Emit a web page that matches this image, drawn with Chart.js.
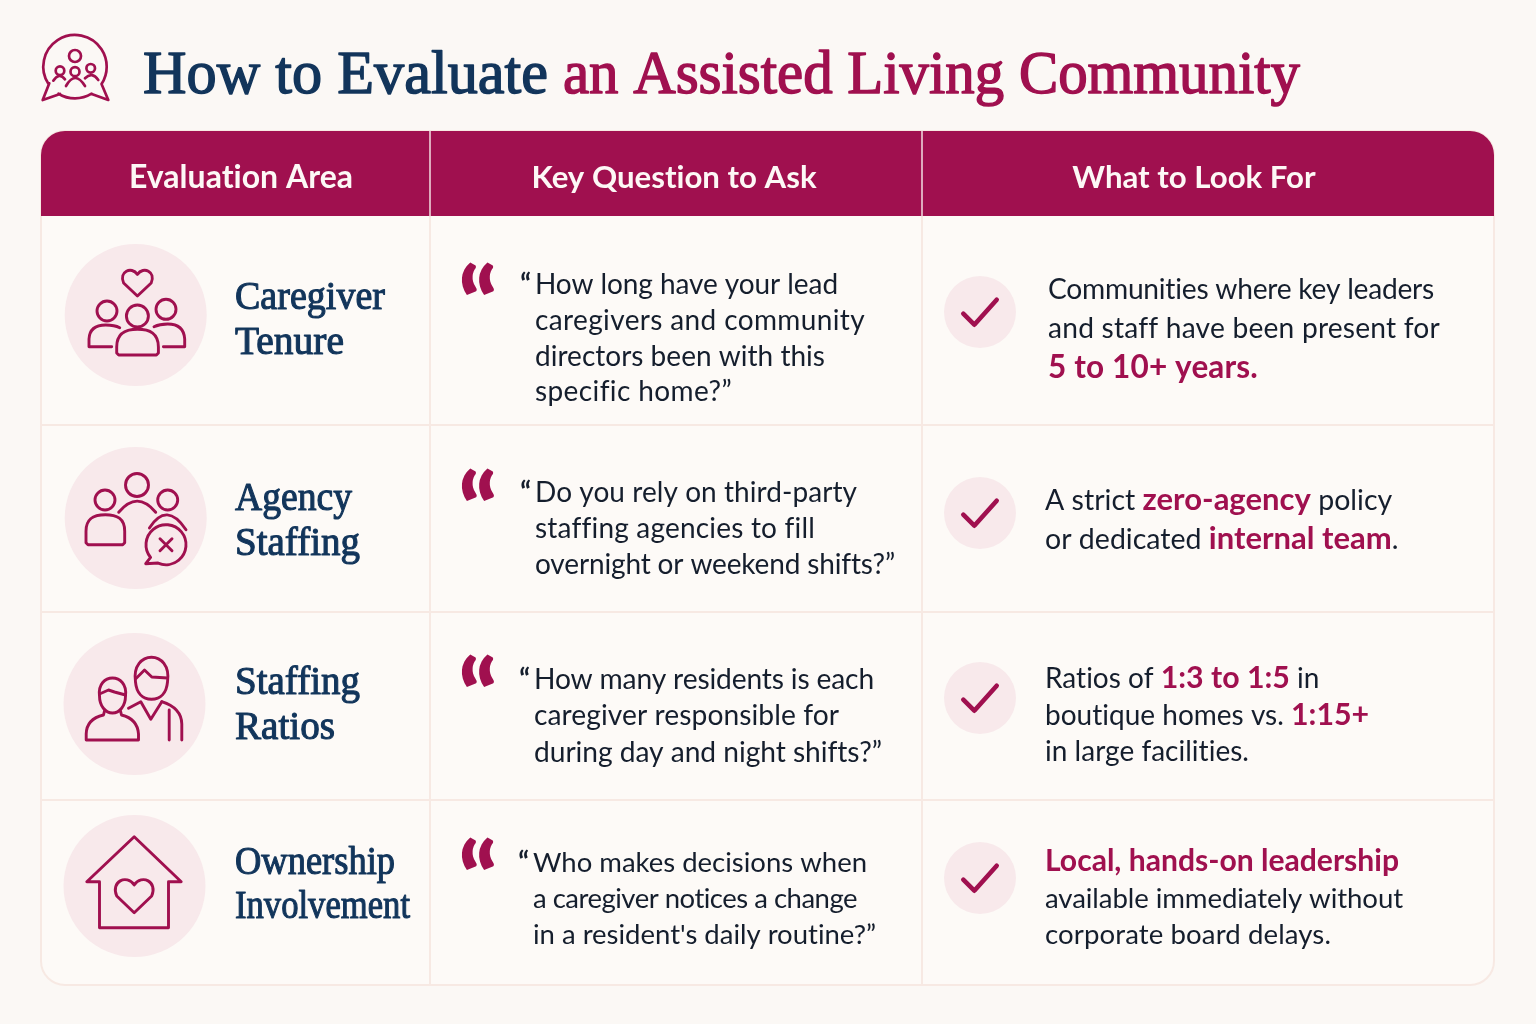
<!DOCTYPE html>
<html>
<head>
<meta charset="utf-8">
<title>How to Evaluate an Assisted Living Community</title>
<script src="https://cdn.jsdelivr.net/npm/chart.js@4"></script>
<style>
  html, body { margin: 0; padding: 0; background: #fbf8f5; }
  canvas { display: block; }
</style>
</head>
<body>
<canvas id="myChart" width="1536" height="1024"></canvas>
<script>
// content
const titleParts = ['How to Evaluate', 'an Assisted Living Community'];
const columns = ['Evaluation Area', 'Key Question to Ask', 'What to Look For'];
const areas = [
  ['Caregiver', 'Tenure'],
  ['Agency', 'Staffing'],
  ['Staffing', 'Ratios'],
  ['Ownership', 'Involvement']
];
const questions = [
  ['How long have your lead', 'caregivers and community', 'directors been with this', 'specific home?\u201D'],
  ['Do you rely on third-party', 'staffing agencies to fill', 'overnight or weekend shifts?\u201D'],
  ['How many residents is each', 'caregiver responsible for', 'during day and night shifts?\u201D'],
  ['Who makes decisions when', 'a caregiver notices a change', "in a resident's daily routine?\u201D"]
];
// each line is a list of [text, highlighted]
const answers = [
  [[['Communities where key leaders', 0]], [['and staff have been present for', 0]], [['5 to 10+ years.', 1]]],
  [[['A strict ', 0], ['zero-agency', 1], [' policy', 0]], [['or dedicated ', 0], ['internal team', 1], ['.', 0]]],
  [[['Ratios of ', 0], ['1:3 to 1:5', 1], [' in', 0]], [['boutique homes vs. ', 0], ['1:15+', 1]], [['in large facilities.', 0]]],
  [[['Local, hands-on leadership', 1]], [['available immediately without', 0]], [['corporate board delays.', 0]]]
];

// layout, in page pixels
const tableBox = { left: 41, right: 1494, top: 131, bottom: 985, headBottom: 216, radius: 24 };
const colLines = [430, 922];
const colCentres = [241, 674, 1194];
const colSizes = [32, 31.2, 31.2];
const rowLines = [425, 612, 800];
const titleX = [143, 563];
const titleWidths = [405, 737];
const iconCentres = [[135.7, 315], [135.7, 518], [134.5, 704], [134.5, 886]];
const areaBaselines = [[309, 354], [510, 555], [694, 739], [874, 918]];
const areaWidths = [[150, 109], [117, 125], [125, 100], [160, 175]];
const quoteBaselines = [341, 547, 733, 916];
const questionX = [535, 535, 534, 533];
const questionBaselines = [[294, 330, 366, 401], [502, 538, 574], [689, 725, 762], [872, 908, 944]];
const questionEnds = [[838, 865, 825, 732], [857, 815, 895], [874, 839, 882], [867, 857, 876]];
const questionSizes = [28, 28, 28.2, 27.5];
const checkCentres = [[980, 312], [980, 513], [980, 698], [980, 878]];
const answerX = [1048, 1045, 1045, 1045];
const answerBaselines = [[299, 338, 378], [510, 549], [688, 725, 761], [871, 908, 944]];
const answerEnds = [[1434, 1440, 1258], [0, 0], [0, 0, 1249], [1399, 1403, 1331]];
const answerSizes = [28.2, 28.5, 28, 27.6];
const strongSizes = [31.5, 31, 30.3, 30.1];

const NAVY = '#12355b';
const CRIMSON = '#a0104f';
const INK = '#151e2d';
const PINK = '#f8e9eb';
const RULE = '#f7e9e3';
const SERIF = '"Liberation Serif", serif';
const SANS = 'Lato, sans-serif';

const line = (ctx, pts, close) => {
  ctx.beginPath();
  pts.forEach((p, i) => (i ? ctx.lineTo(p[0], p[1]) : ctx.moveTo(p[0], p[1])));
  if (close) ctx.closePath();
  ctx.stroke();
};
const ring = (ctx, x, y, r) => {
  ctx.beginPath();
  ctx.arc(x, y, r, 0, Math.PI * 2);
  ctx.stroke();
};
const curve = (ctx, x0, y0, cx, cy, x1, y1) => {
  ctx.beginPath();
  ctx.moveTo(x0, y0);
  ctx.quadraticCurveTo(cx, cy, x1, y1);
  ctx.stroke();
};
const heart = (ctx, x, top, halfW, bottom) => {
  const h = bottom - top;
  ctx.beginPath();
  ctx.moveTo(x, bottom);
  ctx.lineTo(x - halfW * 0.92, top + h * 0.52);
  ctx.bezierCurveTo(x - halfW * 1.25, top + h * 0.1, x - halfW * 0.4, top - h * 0.12, x, top + h * 0.2);
  ctx.bezierCurveTo(x + halfW * 0.4, top - h * 0.12, x + halfW * 1.25, top + h * 0.1, x + halfW * 0.92, top + h * 0.52);
  ctx.closePath();
  ctx.stroke();
};
const dome = (ctx, left, right, top, bottom) => {
  const r = (right - left) / 2;
  ctx.beginPath();
  ctx.moveTo(left + 2, bottom);
  ctx.lineTo(left, bottom - 2);
  ctx.lineTo(left, top + r * 0.85);
  ctx.bezierCurveTo(left, top + r * 0.2, left + r * 0.4, top, left + r, top);
  ctx.bezierCurveTo(right - r * 0.4, top, right, top + r * 0.2, right, top + r * 0.85);
  ctx.lineTo(right, bottom - 2);
  ctx.lineTo(right - 2, bottom);
  ctx.closePath();
  ctx.stroke();
};
// regular serif thickened with a thin outline, the picture's weight sits between regular and bold
const mediumText = (ctx, text, x, y, width, outline) => {
  ctx.strokeStyle = ctx.fillStyle;
  ctx.lineWidth = outline;
  ctx.fillText(text, x, y, width);
  ctx.strokeText(text, x, y, width);
};
// a tiny letter spacing switches off Lato's ti and fi ligatures
const BASE_SPACING = 0.01;
// spreads or tightens one line so that it ends at the given x
const fitLine = (ctx, text, x, y, end) => {
  ctx.letterSpacing = BASE_SPACING + 'px';
  const extra = (end - x - ctx.measureText(text).width) / text.length;
  ctx.letterSpacing = (BASE_SPACING + extra) + 'px';
  ctx.fillText(text, x, y);
  ctx.letterSpacing = BASE_SPACING + 'px';
};

const icons = [
  ctx => {
    heart(ctx, 1.7, -46, 15, -19);
    ring(ctx, -28.7, -4, 10);
    ring(ctx, 1.7, 1, 11);
    ring(ctx, 30.3, -5.7, 10);
    dome(ctx, -19, 22.7, 14.3, 40);
    ctx.beginPath();
    ctx.moveTo(-24, 31.7);
    ctx.lineTo(-46.7, 31.7);
    ctx.lineTo(-46.7, 24);
    ctx.quadraticCurveTo(-46, 10, -30, 10);
    ctx.quadraticCurveTo(-21, 10, -16, 12.7);
    ctx.stroke();
    ctx.beginPath();
    ctx.moveTo(27.7, 31.7);
    ctx.lineTo(49, 31.7);
    ctx.lineTo(49, 24);
    ctx.quadraticCurveTo(48, 9, 32, 9);
    ctx.quadraticCurveTo(24, 9, 18.3, 11.7);
    ctx.stroke();
  },
  ctx => {
    ring(ctx, 1.3, -33, 11.5);
    ring(ctx, -30.7, -18, 10);
    ring(ctx, 32, -18, 10);
    curve(ctx, -17, -5.7, 1.5, -28, 20, -5.7);
    dome(ctx, -49.7, -11, -3.3, 26.7);
    curve(ctx, 13.7, 10, 31, -17, 50.3, 11.7);
    // speech bubble with the cross
    ctx.beginPath();
    ctx.arc(30.3, 26.7, 20, 2.45, 2.45 + Math.PI * 1.85);
    ctx.lineTo(10, 45.7);
    ctx.closePath();
    ctx.save();
    ctx.fillStyle = PINK;
    ctx.fill();
    ctx.restore();
    ctx.stroke();
    line(ctx, [[24.3, 20.7], [36.3, 32.7]]);
    line(ctx, [[36.3, 20.7], [24.3, 32.7]]);
  },
  ctx => {
    // resident
    ctx.beginPath();
    ctx.moveTo(-35, -8);
    ctx.bezierCurveTo(-38, -32, -6, -32, -9, -8);
    ctx.bezierCurveTo(-9, 2, -15, 9, -22, 9);
    ctx.bezierCurveTo(-29, 9, -35, 2, -35, -8);
    ctx.stroke();
    line(ctx, [[-35, -10], [-26, -14], [-20, -12], [-9, -9]]);
    ctx.beginPath();
    ctx.moveTo(-30, 7);
    ctx.lineTo(-31, 11);
    ctx.quadraticCurveTo(-48, 15, -48.3, 30);
    ctx.lineTo(-48.3, 36);
    ctx.lineTo(4, 36);
    ctx.lineTo(4, 30);
    ctx.quadraticCurveTo(3, 15, -13, 11);
    ctx.lineTo(-14, 7);
    ctx.stroke();
    // caregiver
    ctx.beginPath();
    ctx.moveTo(1, -22);
    ctx.bezierCurveTo(-4, -55, 38, -55, 33, -22);
    ctx.bezierCurveTo(32, -11, 26, -4.7, 17, -4.7);
    ctx.bezierCurveTo(8, -4.7, 2, -11, 1, -22);
    ctx.stroke();
    line(ctx, [[1, -25], [10, -34], [17.3, -27], [33, -26]]);
    line(ctx, [[-6, 4.3], [6.3, -2.3], [16.3, 15.3], [27.3, -2.3]]);
    ctx.beginPath();
    ctx.moveTo(27.3, -2.3);
    ctx.quadraticCurveTo(47, 4, 47.3, 20);
    ctx.lineTo(47.3, 36);
    ctx.stroke();
    line(ctx, [[34.7, 6], [34.7, 36]]);
  },
  ctx => {
    line(ctx, [[-0.3, -49.3], [-47.7, -4.3], [-35, -4.3], [-35, 41.7], [34, 41.7], [34, -4.3], [46.7, -4.3]], true);
    heart(ctx, -0.3, -8, 19, 26.7);
  }
];

const headerIcon = ctx => {
  ctx.beginPath();
  ctx.moveTo(60, 94);
  ctx.lineTo(42.7, 100);
  ctx.lineTo(49.3, 83.3);
  ctx.arc(75, 66.7, 31.7, 2.56, 0.58);
  ctx.lineTo(108.3, 100);
  ctx.lineTo(91.7, 94);
  ctx.arc(75, 66.7, 31.7, 1.02, 2.12);
  ctx.stroke();
  ring(ctx, 75, 56, 6);
  ring(ctx, 60, 70.7, 4.3);
  ring(ctx, 90.7, 68.3, 4.3);
  ring(ctx, 75, 71.7, 4.5);
  curve(ctx, 66, 86, 75, 70, 85, 86);
  curve(ctx, 53.3, 80.7, 59, 72, 65, 79.3);
  curve(ctx, 85, 78.3, 92, 71, 98.3, 80);
};

const tablePlugin = {
  id: 'evaluationTable',
  beforeDraw(chart) {
    const { ctx, scales: { x, y } } = chart;
    const px = v => x.getPixelForValue(v);
    const py = v => y.getPixelForValue(v);
    const t = tableBox;

    ctx.save();
    ctx.fillStyle = '#fbf8f5';
    ctx.fillRect(px(0), py(0), px(1536), py(1024));

    ctx.lineCap = 'round';
    ctx.lineJoin = 'round';

    // title
    ctx.textBaseline = 'alphabetic';
    ctx.textAlign = 'left';
    ctx.font = '62px ' + SERIF;
    ctx.fillStyle = NAVY;
    mediumText(ctx, titleParts[0], px(titleX[0]), py(93), titleWidths[0], 1.5);
    ctx.fillStyle = CRIMSON;
    mediumText(ctx, titleParts[1], px(titleX[1]), py(93), titleWidths[1], 1.5);

    ctx.strokeStyle = CRIMSON;
    ctx.lineWidth = 2.7;
    headerIcon(ctx);

    // table body
    ctx.beginPath();
    ctx.roundRect(px(t.left), py(t.top), px(t.right) - px(t.left), py(t.bottom) - py(t.top), t.radius);
    ctx.fillStyle = '#fdfaf7';
    ctx.fill();
    ctx.strokeStyle = RULE;
    ctx.lineWidth = 2;
    ctx.stroke();

    rowLines.forEach(r => line(ctx, [[px(t.left), py(r)], [px(t.right), py(r)]]));
    colLines.forEach(c => line(ctx, [[px(c), py(t.headBottom)], [px(c), py(t.bottom)]]));

    // header band
    ctx.beginPath();
    ctx.roundRect(px(t.left), py(t.top), px(t.right) - px(t.left), py(t.headBottom) - py(t.top), [t.radius, t.radius, 0, 0]);
    ctx.fillStyle = CRIMSON;
    ctx.fill();
    ctx.strokeStyle = '#f3dfe2';
    ctx.lineWidth = 1.5;
    colLines.forEach(c => line(ctx, [[px(c), py(t.top)], [px(c), py(t.headBottom)]]));

    ctx.letterSpacing = BASE_SPACING + 'px';

    ctx.fillStyle = '#fdf8f6';
    ctx.textAlign = 'center';
    columns.forEach((c, i) => {
      ctx.font = 'bold ' + colSizes[i] + 'px ' + SANS;
      ctx.fillText(c, px(colCentres[i]), py(188));
    });
    ctx.textAlign = 'left';

    areas.forEach((area, i) => {
      // round icon
      const [ix, iy] = iconCentres[i];
      ctx.fillStyle = PINK;
      ctx.beginPath();
      ctx.arc(px(ix), py(iy), 71, 0, Math.PI * 2);
      ctx.fill();
      ctx.save();
      ctx.translate(px(ix), py(iy));
      ctx.strokeStyle = CRIMSON;
      ctx.lineWidth = 2.9;
      icons[i](ctx);
      ctx.restore();

      // area name
      ctx.fillStyle = NAVY;
      ctx.font = '40px ' + SERIF;
      area.forEach((w, k) => mediumText(ctx, w, px(235), py(areaBaselines[i][k]), areaWidths[i][k], 1.1));

      // big quote mark, Lato's leans over so it is stood upright a little
      ctx.save();
      ctx.fillStyle = CRIMSON;
      ctx.font = '900 100px ' + SANS;
      ctx.translate(px(463), py(quoteBaselines[i]));
      ctx.transform(1, 0, 0.08, 1, 0, 0);
      ctx.fillText('\u201C', 0, 0);
      ctx.restore();

      // question
      ctx.fillStyle = INK;
      ctx.font = 'bold 28px ' + SANS;
      ctx.textAlign = 'right';
      ctx.fillText('\u201C', px(questionX[i] - 4), py(questionBaselines[i][0]));
      ctx.textAlign = 'left';
      ctx.font = questionSizes[i] + 'px ' + SANS;
      questions[i].forEach((q, k) => fitLine(ctx, q, px(questionX[i]), py(questionBaselines[i][k]), px(questionEnds[i][k])));

      // check badge
      const [cx, cy] = checkCentres[i];
      ctx.fillStyle = PINK;
      ctx.beginPath();
      ctx.arc(px(cx), py(cy), 36, 0, Math.PI * 2);
      ctx.fill();
      ctx.strokeStyle = CRIMSON;
      ctx.lineWidth = 4.6;
      line(ctx, [[px(cx - 16.7), py(cy + 1.7)], [px(cx - 5.7), py(cy + 12.7)], [px(cx + 16.7), py(cy - 12.3)]]);

      // what to look for
      answers[i].forEach((parts, k) => {
        let at = px(answerX[i]);
        const base = py(answerBaselines[i][k]);
        parts.forEach(([text, strong]) => {
          ctx.font = strong ? 'bold ' + strongSizes[i] + 'px ' + SANS : answerSizes[i] + 'px ' + SANS;
          ctx.fillStyle = strong ? CRIMSON : INK;
          if (answerEnds[i][k]) {
            fitLine(ctx, text, at, base, px(answerEnds[i][k]));
          } else {
            ctx.fillText(text, at, base);
            at += ctx.measureText(text).width;
          }
        });
      });
    });
    ctx.restore();
  }
};

new Chart(document.getElementById('myChart'), {
  type: 'scatter',
  data: { datasets: [] },
  options: {
    responsive: false,
    animation: false,
    layout: { padding: 0 },
    plugins: { legend: { display: false }, tooltip: { enabled: false } },
    scales: {
      x: { type: 'linear', min: 0, max: 1536, display: false },
      y: { type: 'linear', min: 0, max: 1024, reverse: true, display: false }
    }
  },
  plugins: [tablePlugin]
});
</script>
</body>
</html>
